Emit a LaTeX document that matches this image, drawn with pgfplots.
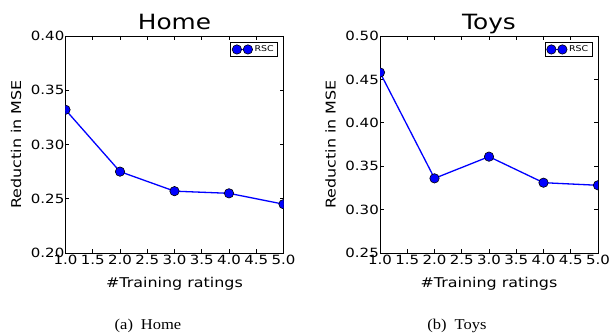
\documentclass[border=0pt]{standalone}
\usepackage{fontspec}
\setmainfont[FakeStretch=1.18]{DejaVu Sans}
\newfontfamily\capfont[FakeStretch=1.1]{Liberation Serif}
\usepackage{pgfplots}
\pgfplotsset{compat=1.18}
\definecolor{mplblue}{RGB}{0,0,255}
\pgfplotsset{
  myaxis/.style={
    scale only axis, width=218pt, height=217pt,
    anchor=south west,
    xmin=1, xmax=5,
    xtick={1,1.5,...,5},
    tick align=inside, xtick pos=both, ytick pos=both,
    major tick length=4pt,
    /pgf/number format/assume math mode=true,
    /pgf/number format/fixed, /pgf/number format/fixed zerofill,
    xticklabel style={/pgf/number format/precision=1, font=\fontsize{12.7}{14}\selectfont, inner sep=0pt, yshift=-2pt},
    yticklabel style={/pgf/number format/precision=2, font=\fontsize{12.7}{14}\selectfont, inner sep=1pt},
    scaled ticks=false,
    xlabel={\#Training ratings}, ylabel={Reductin in MSE},
    label style={font=\fontsize{13.5}{15}\selectfont},
    xlabel style={yshift=-9pt},
    ylabel style={yshift=5pt},
    title style={font=\fontsize{21}{24}\selectfont, at={(0.5,1)}, anchor=base, yshift=0pt},
    axis line style={line width=0.8pt},
    every tick/.style={black, line width=0.6pt},
    clip=true, clip marker paths=true,
    legend style={font=\fontsize{8}{9}\selectfont, draw=black, line width=0.5pt, inner sep=1.5pt, row sep=0pt, at={(1,1)}, anchor=north east, xshift=-6pt, yshift=-6pt},
    legend cell align=left,
    legend image code/.code={\draw[#1] plot coordinates {(0pt,0pt) (11pt,0pt)};},
  },
  myline/.style={mplblue, line width=1.3pt, mark=*, mark size=4.7pt,
    mark options={fill=mplblue, draw=black, line width=0.6pt}},
}
\begin{document}
\begin{tikzpicture}
\path[use as bounding box] (0pt,0pt) rectangle (611pt,335pt);
\begin{axis}[myaxis, at={(65.5pt,82pt)}, title={Home},
  ymin=0.20, ymax=0.40, ytick={0.20,0.25,...,0.401}]
\addplot[myline] coordinates {(1,0.332) (2,0.275) (3,0.257) (4,0.255) (5,0.245)};
\addlegendentry{RSC}
\end{axis}
\begin{axis}[myaxis, at={(380pt,82pt)}, title={Toys},
  ymin=0.25, ymax=0.50, ytick={0.25,0.30,...,0.501}]
\addplot[myline] coordinates {(1,0.458) (2,0.336) (3,0.361) (4,0.331) (5,0.328)};
\addlegendentry{RSC}
\end{axis}
\node[font=\capfont\fontsize{15}{17}\selectfont] at (148pt,9pt) {(a)\hspace{8pt}Home};
\node[font=\capfont\fontsize{15}{17}\selectfont] at (457pt,9pt) {(b)\hspace{8pt}Toys};
\end{tikzpicture}
\end{document}
